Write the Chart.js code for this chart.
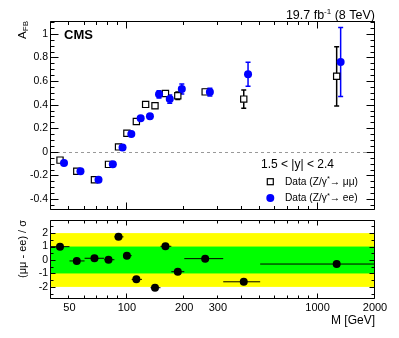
<!DOCTYPE html>
<html><head><meta charset="utf-8">
<script src="https://cdn.jsdelivr.net/npm/chart.js@4.4.1/dist/chart.umd.min.js"></script>
<style>
html,body{margin:0;padding:0;background:#fff;}
#wrap{position:relative;width:399px;height:338px;overflow:hidden;background:#fff;}
#top{position:absolute;left:0;top:0;width:399px;height:219px;}
#bot{position:absolute;left:0;top:211px;width:399px;height:127px;}
</style></head><body>
<div id="wrap"><canvas id="top" width="399" height="219"></canvas><canvas id="bot" width="399" height="127"></canvas></div>
<script>
// ---------------- data ----------------
const massMuMu = [44.6, 54.6, 67.6, 80.1, 90.4, 100, 112.1, 125.4, 140.4, 159.3, 184.9, 257.3, 410, 1259];
const afbMuMu  = [-0.070, -0.164, -0.237, -0.106, 0.042, 0.157, 0.257, 0.402, 0.391, 0.495, 0.475, 0.508, 0.447, 0.640];
const errMuMu  = [0.008, 0.006, 0.005, 0.005, 0.004, 0.004, 0.006, 0.010, 0.020, 0.020, 0.032, 0.020, 0.078, 0.251];
const massEE   = [46.8, 57.1, 71.0, 84.4, 94.9, 105.5, 118.1, 132.1, 147.4, 167.8, 194.1, 272.4, 431.8, 1321];
const afbEE    = [-0.095, -0.164, -0.237, -0.106, 0.037, 0.151, 0.285, 0.302, 0.487, 0.447, 0.532, 0.506, 0.658, 0.761];
const errEE    = [0.010, 0.008, 0.006, 0.006, 0.004, 0.005, 0.008, 0.012, 0.030, 0.035, 0.042, 0.032, 0.102, 0.292];

const pullMass    = [44.6, 54.6, 67.6, 80.1, 90.4, 100, 112.1, 140.4, 159.3, 184.9, 257.3, 410, 1259];
const pullValue   = [0.99, -0.07, 0.13, 0.02, 1.72, 0.32, -1.44, -2.06, 1.02, -0.87, 0.10, -1.62, -0.30];
const pullBinLow  = [40, 50, 60, 76, 86, 96, 106, 133, 150, 171, 200, 320, 500];
const pullBinHigh = [50, 60, 76, 86, 96, 106, 120, 150, 171, 200, 320, 500, 2000];

const xTickLabels = [50, 100, 200, 300, 1000, 2000];
const xMajorTicks = [100, 1000];
const xMinorTicks = [40, 50, 60, 70, 80, 90, 200, 300, 400, 500, 600, 700, 800, 900, 2000];
const yTicksTop   = [-0.4, -0.2, 0, 0.2, 0.4, 0.6, 0.8, 1];
const yTicksPull  = [-2, -1, 0, 1, 2];
const bandOuter   = [-2, 2];
const bandInner   = [-1, 1];

// ---------------- helpers ----------------
const FONT = "'Liberation Sans', Arial, Helvetica, sans-serif";
Chart.defaults.font.family = FONT;
Chart.defaults.color = '#000';

function drawSegments(ctx, x, y, segs, align) {
  let total = 0;
  segs.forEach(s => { ctx.font = (s[3] ? 'bold ' : '') + s[1] + 'px ' + FONT; total += ctx.measureText(s[0]).width; });
  let cx = align === 'right' ? x - total : x;
  segs.forEach(s => {
    ctx.font = (s[3] ? 'bold ' : '') + s[1] + 'px ' + FONT;
    ctx.textAlign = 'left';
    ctx.fillText(s[0], cx, y + s[2]);
    cx += ctx.measureText(s[0]).width;
  });
}

const rootPlugin = {
  id: 'rootAxes',
  beforeDatasetsDraw(chart, args, o) {
    const ctx = chart.ctx, a = chart.chartArea, xs = chart.scales.x, ys = chart.scales.y;
    ctx.save();
    ctx.beginPath(); ctx.rect(a.left, a.top, a.right - a.left, a.bottom - a.top); ctx.clip();
    (o.bands || []).forEach(b => {
      const y1 = ys.getPixelForValue(b.range[1]), y0 = ys.getPixelForValue(b.range[0]);
      ctx.fillStyle = b.color;
      ctx.fillRect(a.left, y1, a.right - a.left, y0 - y1);
    });
    if (o.zeroLine) {
      const y = Math.round(ys.getPixelForValue(0)) + 0.5;
      ctx.strokeStyle = '#999'; ctx.lineWidth = 1; ctx.setLineDash([3, 3]);
      ctx.beginPath(); ctx.moveTo(a.left, y); ctx.lineTo(a.right, y); ctx.stroke();
      ctx.setLineDash([]);
    }
    chart.data.datasets.forEach(ds => {
      ctx.strokeStyle = ds.errColor || '#000';
      ctx.lineWidth = ds.errWidth || 1;
      ds.data.forEach((p, i) => {
        const px = xs.getPixelForValue(p.x), py = ys.getPixelForValue(p.y);
        if (ds.errors) {
          const e = ds.errors[i];
          const yt = ys.getPixelForValue(p.y + e), yb = ys.getPixelForValue(p.y - e);
          ctx.beginPath(); ctx.moveTo(px, yt); ctx.lineTo(px, yb);
          ctx.moveTo(px - 2.5, yt); ctx.lineTo(px + 2.5, yt);
          ctx.moveTo(px - 2.5, yb); ctx.lineTo(px + 2.5, yb);
          ctx.stroke();
        }
        if (ds.xLow) {
          const xl = xs.getPixelForValue(ds.xLow[i]), xh = xs.getPixelForValue(ds.xHigh[i]);
          ctx.beginPath(); ctx.moveTo(xl, py); ctx.lineTo(xh, py); ctx.stroke();
        }
      });
    });
    ctx.restore();
  },
  afterDatasetsDraw(chart, args, o) {
    const ctx = chart.ctx, a = chart.chartArea, xs = chart.scales.x, ys = chart.scales.y;
    ctx.save();
    ctx.strokeStyle = '#000'; ctx.lineWidth = 1;
    const L = Math.round(a.left) - 0.5, R = Math.round(a.right) - 0.5, T = Math.round(a.top) - 0.5, B = Math.round(a.bottom) - 0.5;
    ctx.beginPath();
    ctx.moveTo(L, T); ctx.lineTo(R, T); ctx.lineTo(R, B); ctx.lineTo(L, B); ctx.closePath();
    const yMaj = o.yTicks, step = yMaj[1] - yMaj[0], sub = step / o.ySub;
    const vStart = Math.ceil((ys.min - 1e-9) / sub) * sub;
    for (let v = vStart; v <= ys.max + 1e-9; v += sub) {
      const isMaj = yMaj.some(m => Math.abs(m - v) < 1e-6);
      const len = isMaj ? o.yMajLen : o.yMinLen;
      const py = Math.round(ys.getPixelForValue(v)) + 0.5;
      ctx.moveTo(L, py); ctx.lineTo(L + len, py);
      ctx.moveTo(R, py); ctx.lineTo(R - len, py);
    }
    const xt = xMajorTicks.map(v => [v, o.xMajLen]).concat(xMinorTicks.map(v => [v, o.xMinLen]));
    xt.forEach(([v, len]) => {
      const px = Math.round(xs.getPixelForValue(v)) - 0.5;
      ctx.moveTo(px, B); ctx.lineTo(px, B - len);
      ctx.moveTo(px, T); ctx.lineTo(px, T + len);
    });
    ctx.stroke();
    ctx.restore();
  },
  afterDraw(chart, args, o) {
    if (o.draw) { chart.ctx.save(); o.draw(chart.ctx, chart); chart.ctx.restore(); }
  }
};

// ---------------- top panel ----------------
new Chart(document.getElementById('top'), {
  type: 'scatter',
  data: { datasets: [
    { label: 'Data (Z/γ*→ ee)', data: massEE.map((m, i) => ({ x: m, y: afbEE[i] })), errors: errEE,
      errColor: '#0000ff', errWidth: 1.5, pointStyle: 'circle', pointRadius: 4, backgroundColor: '#0000ff',
      borderColor: '#0000ff', borderWidth: 0, order: 0 },
    { label: 'Data (Z/γ*→ μμ)', data: massMuMu.map((m, i) => ({ x: m, y: afbMuMu[i] })), errors: errMuMu,
      errColor: '#000', errWidth: 1.5, pointStyle: 'rect', pointRadius: 4.4, backgroundColor: '#fff',
      borderColor: '#000', borderWidth: 1.2, order: 1 }
  ]},
  options: {
    responsive: false, animation: false, events: [],
    layout: { padding: { left: 0, right: 24, top: 22, bottom: 0 } },
    plugins: {
      legend: { display: false }, tooltip: { enabled: false },
      rootAxes: {
        zeroLine: true, yTicks: yTicksTop, ySub: 4, yMajLen: 8, yMinLen: 4, xMajLen: 7, xMinLen: 3.5,
        draw(ctx) {
          ctx.fillStyle = '#000'; ctx.textBaseline = 'alphabetic';
          drawSegments(ctx, 64, 38.5, [['CMS', 13, 0, true]], 'left');
          drawSegments(ctx, 375, 19, [['19.7 fb', 12.5, 0], ['-1', 8, -5], [' (8 TeV)', 12.5, 0]], 'right');
          ctx.save(); ctx.translate(25.5, 21); ctx.rotate(-Math.PI / 2);
          drawSegments(ctx, 0, 0, [['A', 11.5, 0], ['FB', 8, 2.5]], 'right');
          ctx.restore();
          ctx.textBaseline = 'middle';
          drawSegments(ctx, 261, 165, [['1.5 < |y| < 2.4', 12, 0]], 'left');
          ctx.strokeStyle = '#000'; ctx.lineWidth = 1.2; ctx.fillStyle = '#fff';
          ctx.fillRect(267.3, 178.7, 6, 6); ctx.strokeRect(267.3, 178.7, 6, 6);
          ctx.fillStyle = '#0000ff'; ctx.beginPath(); ctx.arc(270.3, 198, 4, 0, Math.PI * 2); ctx.fill();
          ctx.fillStyle = '#000';
          drawSegments(ctx, 285, 182, [['Data (Z/γ', 10.2, 0], ['*', 7.5, -3], ['→ μμ)', 10.2, 0]], 'left');
          drawSegments(ctx, 285, 198.5, [['Data (Z/γ', 10.2, 0], ['*', 7.5, -3], ['→ ee)', 10.2, 0]], 'left');
        }
      }
    },
    scales: {
      x: { type: 'logarithmic', min: 40, max: 2000, grid: { display: false, drawTicks: false, tickLength: 0 },
           border: { display: false }, ticks: { display: false }, afterFit(s) { s.height = 8; } },
      y: { min: -0.49, max: 1.1, grid: { display: false, drawTicks: false, tickLength: 0 }, border: { display: false },
           afterBuildTicks(s) { s.ticks = yTicksTop.map(v => ({ value: v })); },
           ticks: { padding: 3, font: { size: 10.5 }, callback: v => String(Math.round(v * 10) / 10) },
           afterFit(s) { s.width = 51; } }
    }
  },
  plugins: [rootPlugin]
});

// ---------------- bottom (pull) panel ----------------
new Chart(document.getElementById('bot'), {
  type: 'scatter',
  data: { datasets: [
    { label: 'pull', data: pullMass.map((m, i) => ({ x: m, y: pullValue[i] })), xLow: pullBinLow, xHigh: pullBinHigh,
      errColor: '#000', errWidth: 1, pointStyle: 'circle', pointRadius: 4, backgroundColor: '#000', borderColor: '#000', borderWidth: 0 }
  ]},
  options: {
    responsive: false, animation: false, events: [],
    layout: { padding: { left: 0, right: 24, top: 10, bottom: 0 } },
    plugins: {
      legend: { display: false }, tooltip: { enabled: false },
      rootAxes: {
        bands: [{ range: bandOuter, color: '#ffff00' }, { range: bandInner, color: '#00ff00' }],
        yTicks: yTicksPull, ySub: 2, yMajLen: 5, yMinLen: 3, xMajLen: 5, xMinLen: 3,
        draw(ctx) {
          ctx.fillStyle = '#000'; ctx.textBaseline = 'middle';
          drawSegments(ctx, 375, 109.5, [['M [GeV]', 12, 0]], 'right');
          ctx.textBaseline = 'alphabetic';
          ctx.save(); ctx.translate(26, 9); ctx.rotate(-Math.PI / 2);
          drawSegments(ctx, 0, 0, [['(μμ - ee) / σ', 11, 0]], 'right');
          ctx.restore();
        }
      }
    },
    scales: {
      x: { type: 'logarithmic', min: 40, max: 2000, grid: { display: false, drawTicks: false, tickLength: 0 },
           border: { display: false },
           afterBuildTicks(s) { s.ticks = xTickLabels.map(v => ({ value: v })); },
           ticks: { autoSkip: false, maxRotation: 0, minRotation: 0, padding: 2, font: { size: 11 }, callback: v => String(v) },
           afterFit(s) { s.height = 39; } },
      y: { min: -2.9, max: 2.9, grid: { display: false, drawTicks: false, tickLength: 0 }, border: { display: false },
           afterBuildTicks(s) { s.ticks = yTicksPull.map(v => ({ value: v })); },
           ticks: { padding: 3, font: { size: 10.5 }, callback: v => String(v) },
           afterFit(s) { s.width = 51; } }
    }
  },
  plugins: [rootPlugin]
});
</script>
</body></html>
